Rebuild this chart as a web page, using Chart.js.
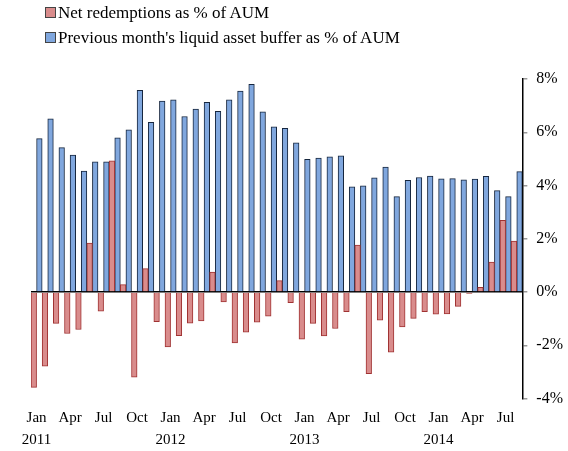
<!DOCTYPE html>
<html>
<head>
<meta charset="utf-8">
<script src="https://cdn.jsdelivr.net/npm/chart.js@4"></script>
<style>
    body { margin: 0; background: #fff; }
    #wrap { position: relative; width: 568px; height: 451px; }
    #legend { position: absolute; left: 45px; top: 0px; font: 17px "Liberation Serif", "Times New Roman", serif; color: #000; }
    #legend div { height: 25px; display: flex; align-items: center; }
    #legend span.box { display: inline-block; box-sizing: border-box; width: 11px; height: 11px; margin-right: 2px; border: 1px solid #444; }
</style>
</head>
<body>
<div id="wrap">
    <canvas id="chart" width="568" height="451"></canvas>
    <div id="legend"></div>
</div>
<script>
// Monthly data, Jan 2011 - Aug 2014
const monthNames = ['Jan', 'Feb', 'Mar', 'Apr', 'May', 'Jun', 'Jul', 'Aug', 'Sep', 'Oct', 'Nov', 'Dec'];
const years = [2011, 2012, 2013, 2014];
const monthCount = 44;

const netRedemptions = [
    -3.58, -2.79, -1.18, -1.56, -1.41, 1.84, -0.72, 4.93, 0.28, -3.20, 0.88, -1.11,
    -2.06, -1.64, -1.17, -1.09, 0.75, -0.37, -1.91, -1.51, -1.13, -0.91, 0.43, -0.40,
    -1.77, -1.18, -1.65, -1.37, -0.74, 1.76, -3.07, -1.06, -2.26, -1.31, -0.99, -0.74,
    -0.83, -0.82, -0.54, -0.05, 0.18, 1.12, 2.69, 1.91
];
const liquidBuffer = [
    5.76, 6.50, 5.42, 5.14, 4.54, 4.89, 4.89, 5.79, 6.09, 7.57, 6.37, 7.17,
    7.22, 6.59, 6.87, 7.12, 6.79, 7.22, 7.55, 7.80, 6.77, 6.20, 6.15, 5.60,
    4.98, 5.03, 5.08, 5.11, 3.95, 3.99, 4.29, 4.69, 3.58, 4.19, 4.30, 4.35,
    4.25, 4.26, 4.21, 4.24, 4.34, 3.81, 3.58, 4.52
];

const labels = [];
for (let i = 0; i < monthCount; i++) {
    labels.push(monthNames[i % 12] + ' ' + years[Math.floor(i / 12)]);
}

const serif = '"Liberation Serif", "Times New Roman", serif';

const chart = new Chart(document.getElementById('chart'), {
    type: 'bar',
    data: {
        labels: labels,
        datasets: [{
            label: 'Net redemptions as % of AUM',
            data: netRedemptions,
            backgroundColor: 'rgb(217, 140, 140)',
            borderColor: 'rgb(160, 50, 50)',
            borderWidth: 1,
            categoryPercentage: 1.0,
            barPercentage: 1.0
        }, {
            label: "Previous month's liquid asset buffer as % of AUM",
            data: liquidBuffer,
            backgroundColor: 'rgb(128, 167, 222)',
            borderColor: 'rgb(22, 38, 62)',
            borderWidth: 1,
            categoryPercentage: 1.0,
            barPercentage: 1.0
        }]
    },
    options: {
        responsive: false,
        animation: false,
        layout: { padding: { top: 79, left: 31, right: -4, bottom: -9 } },
        plugins: {
            legend: { display: false },
            tooltip: { enabled: false }
        },
        scales: {
            x: {
                grid: { display: false, drawTicks: false, tickLength: 0 },
                border: { display: false },
                ticks: {
                    autoSkip: false,
                    maxRotation: 0,
                    padding: 9,
                    color: '#000',
                    font: { family: serif, size: 15, lineHeight: 1.45 },
                    callback: function(value, index) {
                        const m = index % 12;
                        if (m % 3 !== 0) return '';
                        const name = monthNames[m];
                        if (m === 0) return [name, String(years[Math.floor(index / 12)])];
                        return name;
                    }
                }
            },
            y: {
                position: 'right',
                min: -4,
                max: 8,
                border: { display: true, color: '#000', width: 1.5 },
                grid: {
                    drawOnChartArea: true,
                    drawTicks: true,
                    tickLength: 5,
                    tickColor: '#999',
                    lineWidth: 1.5,
                    color: ctx => (ctx.tick && ctx.tick.value === 0) ? '#000' : 'rgba(0,0,0,0)'
                },
                ticks: {
                    stepSize: 2,
                    padding: 9,
                    color: '#000',
                    font: { family: serif, size: 16 },
                    callback: v => v + '%'
                }
            }
        }
    }
});

// Legend stacked in two rows, built from the datasets
const legendEl = document.getElementById('legend');
chart.data.datasets.forEach(ds => {
    const row = document.createElement('div');
    row.innerHTML = `<span class="box" style="background:${ds.backgroundColor}"></span>${ds.label}`;
    legendEl.appendChild(row);
});
</script>
</body>
</html>
